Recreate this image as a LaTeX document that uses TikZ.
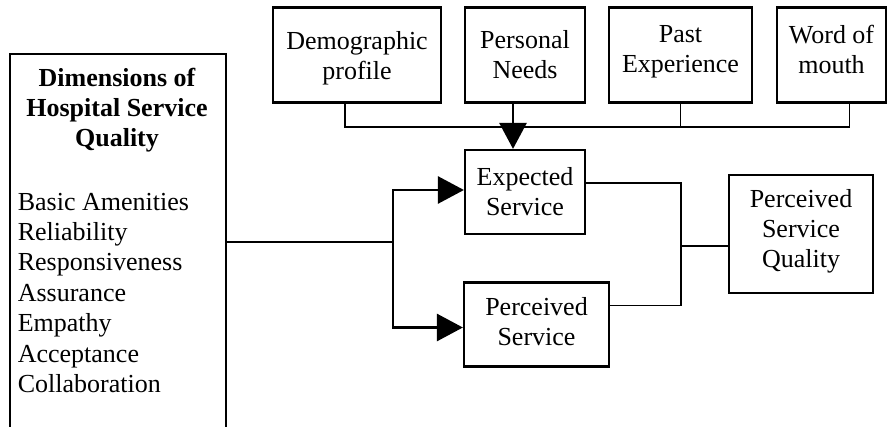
\documentclass[tikz,border=0pt]{standalone}
\usepackage{fontspec}
\setmainfont{Liberation Serif}
\usetikzlibrary{arrows.meta}
\newcommand{\uppad}[1]{\rule{0pt}{#1}}
\newcommand{\downpad}[1]{\rule[-#1]{0pt}{0pt}}

\begin{document}
\begin{tikzpicture}[x=0.5pt, y=-0.5pt, >={Triangle[length=13pt,width=13.5pt]}, line width=0.8pt,
  box/.style={draw, line width=1.1pt, align=center, inner sep=0pt, font=\fontsize{13}{15}\selectfont},
  arr/.style={->, line width=1.4pt}]
\useasboundingbox (0,0) rectangle (887,427);
\clip (0,0) rectangle (887,427);

\node[box, anchor=north west, minimum width=108pt, minimum height=200pt] (dims) at (9,53) {};
\node[font=\fontsize{13}{15}\selectfont\bfseries, align=center, anchor=north, inner sep=0pt] (title) at (117,67) {Dimensions of\\Hospital Service\\Quality};
\node[font=\fontsize{13}{15.2}\selectfont, align=left, anchor=north west, inner sep=0pt] (items) at (17,192) {Basic Amenities\\Reliability\\Responsiveness\\Assurance\\Empathy\\Acceptance\\Collaboration};

\node[box, minimum width=84pt, minimum height=47.5pt] (demo) at (357,55) {\uppad{12.4pt}Demographic\\profile};
\node[box, minimum width=60pt, minimum height=47.5pt] (needs) at (525,55) {Personal\\Needs};
\node[box, minimum width=71.5pt, minimum height=47.5pt] (past) at (680.5,55) {Past\\Experience\downpad{6.3pt}};
\node[box, minimum width=54.5pt, minimum height=47.5pt] (word) at (831.5,55) {Word of\\mouth\downpad{6pt}};

\node[box, minimum width=60pt, minimum height=42pt] (expected) at (525,192) {Expected\\Service};
\node[box, minimum width=72.5pt, minimum height=42pt] (perceived) at (536.5,324.5) {Perceived\\Service\downpad{3.5pt}};
\node[box, minimum width=72pt, minimum height=59pt] (psq) at (801,234) {Perceived\\Service\\Quality\downpad{5.5pt}};

\coordinate (bus) at (513,127);
\coordinate (fork) at (393,242);
\coordinate (join) at (681,246);

\draw ([xshift=-6pt]demo.south) |- (bus);
\draw (past.south) |- (bus);
\draw ([xshift=9pt]word.south) |- (bus);
\draw[arr] ([xshift=-6pt]needs.south) -- ([xshift=-6pt]expected.north);

\draw (dims.east |- fork) -- (fork);
\draw[arr] (fork) |- ([yshift=1pt]expected.west);
\draw[arr] (fork) |- ([yshift=-1.5pt]perceived.west);

\draw ([yshift=4.5pt]expected.east) -| (join);
\draw ([yshift=9.5pt]perceived.east) -| (join);
\draw (join) -- (join -| psq.west);
\end{tikzpicture}
\end{document}
